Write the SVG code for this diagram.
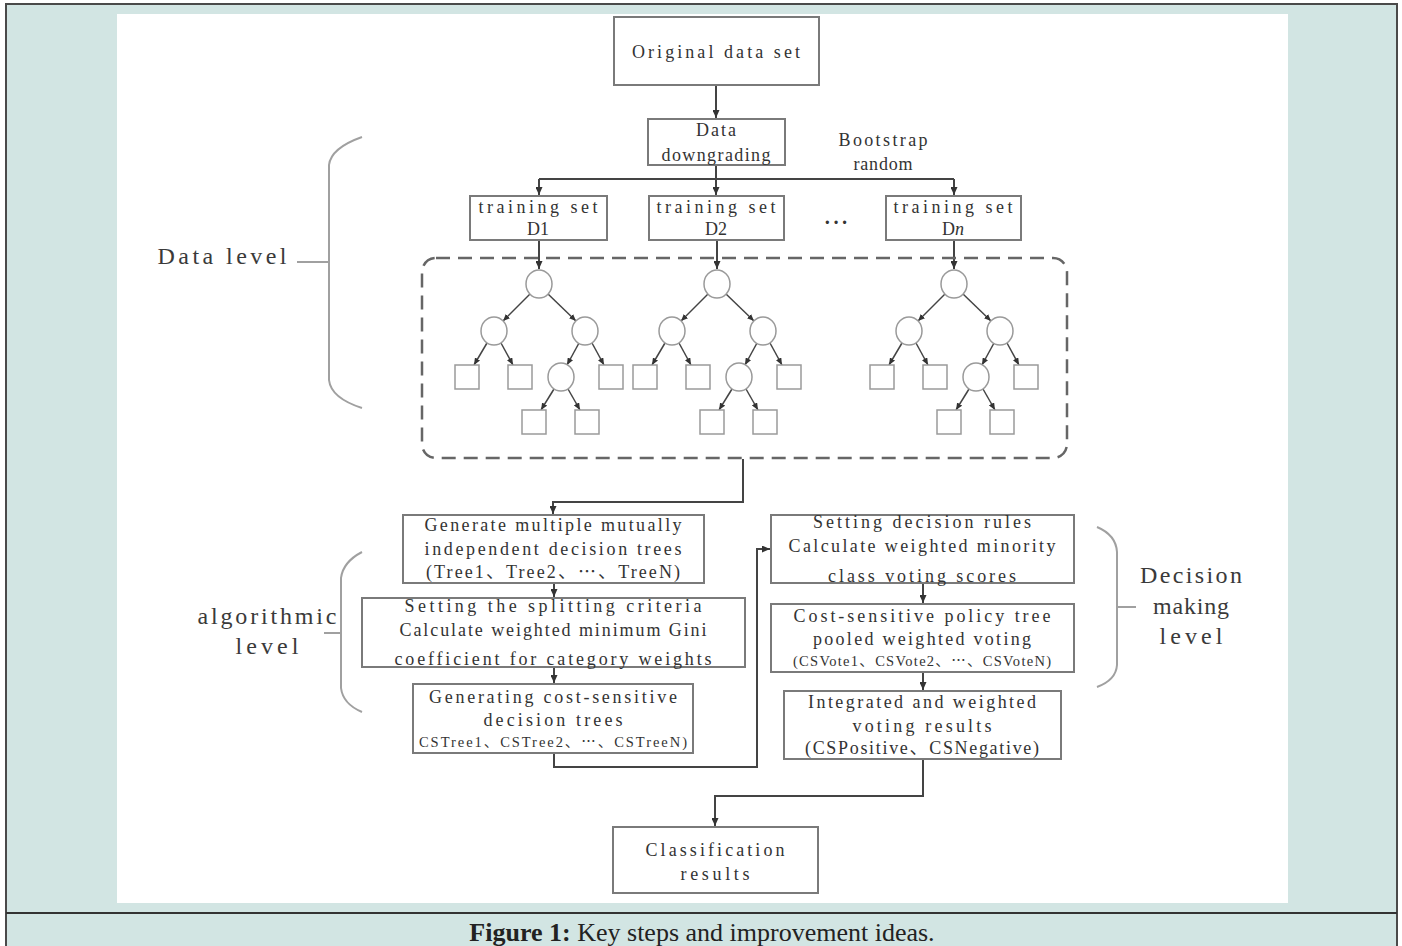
<svg xmlns="http://www.w3.org/2000/svg" xmlns:xlink="http://www.w3.org/1999/xlink" width="1402" height="946" viewBox="0 0 1402 946">
<style>
.box{fill:#fff;stroke:#7a7a7a;stroke-width:2}
.t{font-family:"Liberation Serif","Noto Sans CJK SC",serif;font-size:18px;fill:#333;text-anchor:middle}
.ts{font-size:14.5px}
.lv{font-family:"Liberation Serif","Noto Sans CJK SC",serif;font-size:24px;fill:#3a3a3a;text-anchor:middle}
.ln{fill:none;stroke:#444;stroke-width:2}
.tl{fill:none;stroke:#444;stroke-width:1.5}
.nd{fill:#fff;stroke:#9a9a9a;stroke-width:1.5}
.br{fill:none;stroke:#a0a0a0;stroke-width:2}
</style>
<defs>
<marker id="arr" markerUnits="userSpaceOnUse" markerWidth="8" markerHeight="7" refX="8" refY="3.5" orient="auto"><path d="M0,0 L8,3.5 L0,7 z" fill="#333"/></marker>
<marker id="arrs" markerUnits="userSpaceOnUse" markerWidth="7" markerHeight="6" refX="7" refY="3" orient="auto"><path d="M0,0 L7,3 L0,6 z" fill="#333"/></marker>
<g id="tree">
<g class="tl" marker-end="url(#arrs)">
<path d="M-9,294 L-36,321"/>
<path d="M9,294 L37,321"/>
<path d="M-52,343 L-65,365"/>
<path d="M-38,343 L-26,365"/>
<path d="M40,343 L28,365"/>
<path d="M53,343 L65,365"/>
<path d="M15,389 L2,410"/>
<path d="M29,389 L41,410"/>
</g>
<ellipse class="nd" cx="0" cy="284" rx="13" ry="14"/>
<ellipse class="nd" cx="-45" cy="331" rx="13" ry="14"/>
<ellipse class="nd" cx="46" cy="331" rx="13" ry="14"/>
<ellipse class="nd" cx="22" cy="377" rx="13" ry="14"/>
<rect class="nd" x="-84" y="365" width="24" height="24"/>
<rect class="nd" x="-31" y="365" width="24" height="24"/>
<rect class="nd" x="60" y="365" width="24" height="24"/>
<rect class="nd" x="-17" y="410" width="24" height="24"/>
<rect class="nd" x="36" y="410" width="24" height="24"/>
</g>
</defs>
<rect x="0" y="0" width="1402" height="946" fill="#fff"/>
<rect x="6" y="4" width="1391" height="950" fill="#d2e5e3" stroke="#4a4a4a" stroke-width="2"/>
<line x1="6" y1="913" x2="1397" y2="913" stroke="#333" stroke-width="2"/>
<rect x="117" y="14" width="1171" height="889" fill="#fff"/>

<g id="connectors">
<g class="ln" marker-end="url(#arr)">
<path d="M716,85 L716,118"/>
<path d="M716,165 L716,195"/>
<path d="M539,179 L539,195"/>
<path d="M954,179 L954,195"/>
<path d="M539,240 L539,269"/>
<path d="M717,240 L717,269"/>
<path d="M954,240 L954,269"/>
<path d="M743,459 L743,502 L553,502 L553,514"/>
<path d="M554,583 L554,597"/>
<path d="M554,667 L554,683"/>
<path d="M554,753 L554,767 L757,767 L757,549 L770,549"/>
<path d="M923,583 L923,603"/>
<path d="M923,672 L923,690"/>
<path d="M923,759 L923,796 L715,796 L715,826"/>
</g>
<path class="ln" d="M539,179 L954,179"/>
</g>

<g id="n-original"><rect class="box" x="614" y="17" width="205" height="68"/><text class="t" x="716" y="58" textLength="168">Original data set</text></g>
<g id="n-downgrading"><rect class="box" x="648" y="119" width="137" height="46"/><text class="t" x="716" y="136" textLength="40">Data</text><text class="t" x="716" y="161" textLength="109">downgrading</text></g>
<g id="l-bootstrap"><text class="t" x="883" y="146" textLength="89">Bootstrap</text><text class="t" x="883" y="170" textLength="59">random</text></g>
<g id="n-d1"><rect class="box" x="470" y="196" width="137" height="44"/><text class="t" x="538" y="213" textLength="119">training set</text><text class="t" x="538" y="235">D1</text></g>
<g id="n-d2"><rect class="box" x="649" y="196" width="135" height="44"/><text class="t" x="716" y="213" textLength="119">training set</text><text class="t" x="716" y="235">D2</text></g>
<g id="l-dots"><text class="t" x="836" y="229" style="font-size:20px;font-weight:bold" textLength="24">···</text></g>
<g id="n-dn"><rect class="box" x="886" y="196" width="135" height="44"/><text class="t" x="953" y="213" textLength="119">training set</text><text class="t" x="953" y="235">D<tspan font-style="italic">n</tspan></text></g>

<g id="n-forest">
<rect x="422" y="258" width="645" height="200" rx="14" fill="none" stroke="#666" stroke-width="2.5" stroke-dasharray="14 8"/>
<use xlink:href="#tree" href="#tree" transform="translate(539,0)"/>
<use xlink:href="#tree" href="#tree" transform="translate(717,0)"/>
<use xlink:href="#tree" href="#tree" transform="translate(954,0)"/>
</g>

<g id="n-generate"><rect class="box" x="403" y="515" width="301" height="68"/>
<text class="t" x="553" y="531" textLength="257">Generate multiple mutually</text>
<text class="t" x="553" y="555" textLength="257">independent decision trees</text>
<text class="t" x="553" y="578" textLength="254">(Tree1、Tree2、⋯、TreeN)</text></g>
<g id="n-splitting"><rect class="box" x="362" y="598" width="383" height="69"/>
<text class="t" x="553" y="612" textLength="297">Setting the splitting criteria</text>
<text class="t" x="553" y="636" textLength="307">Calculate weighted minimum Gini</text>
<text class="t" x="553" y="665" textLength="317">coefficient for category weights</text></g>
<g id="n-cstrees"><rect class="box" x="413" y="684" width="280" height="69"/>
<text class="t" x="553" y="703" textLength="248">Generating cost-sensitive</text>
<text class="t" x="553" y="726" textLength="139">decision trees</text>
<text class="t ts" x="553" y="747" textLength="268">CSTree1、CSTree2、⋯、CSTreeN)</text></g>

<g id="n-rules"><rect class="box" x="771" y="515" width="303" height="68"/>
<text class="t" x="922" y="528" textLength="218">Setting decision rules</text>
<text class="t" x="922" y="552" textLength="267">Calculate weighted minority</text>
<text class="t" x="922" y="582" textLength="188">class voting scores</text></g>
<g id="n-voting"><rect class="box" x="771" y="604" width="303" height="68"/>
<text class="t" x="922" y="622" textLength="257">Cost-sensitive policy tree</text>
<text class="t" x="922" y="645" textLength="218">pooled weighted voting</text>
<text class="t ts" x="922" y="666" textLength="258">(CSVote1、CSVote2、⋯、CSVoteN)</text></g>
<g id="n-integrated"><rect class="box" x="784" y="691" width="277" height="68"/>
<text class="t" x="922" y="708" textLength="228">Integrated and weighted</text>
<text class="t" x="922" y="732" textLength="139">voting results</text>
<text class="t" x="922" y="754" textLength="234">(CSPositive、CSNegative)</text></g>
<g id="n-classification"><rect class="box" x="613" y="827" width="205" height="66"/>
<text class="t" x="715" y="856" textLength="139">Classification</text>
<text class="t" x="715" y="880" textLength="69">results</text></g>

<g id="l-data-level">
<path class="br" d="M362,137 Q331,148 329,165 L329,380 Q331,398 362,408 M297,262 L329,262"/>
<text class="lv" x="222" y="264" textLength="129">Data level</text></g>
<g id="l-algorithmic-level">
<path class="br" d="M362,552 Q343,562 341,578 L341,688 Q343,704 362,712 M324,633 L341,633"/>
<text class="lv" x="267" y="624" textLength="139">algorithmic</text><text class="lv" x="267" y="654" textLength="63">level</text></g>
<g id="l-decision-level">
<path class="br" d="M1097,527 Q1116,535 1117,552 L1117,665 Q1116,680 1097,687 M1117,607 L1136,607"/>
<text class="lv" x="1191" y="583" textLength="102">Decision</text><text class="lv" x="1191" y="614" textLength="76">making</text><text class="lv" x="1191" y="644" textLength="63">level</text></g>

<g id="caption"><text x="702" y="941" text-anchor="middle" style="font-family:'Liberation Serif',serif;font-size:26px;fill:#222"><tspan font-weight="bold">Figure 1:</tspan> Key steps and improvement ideas.</text></g>
</svg>
